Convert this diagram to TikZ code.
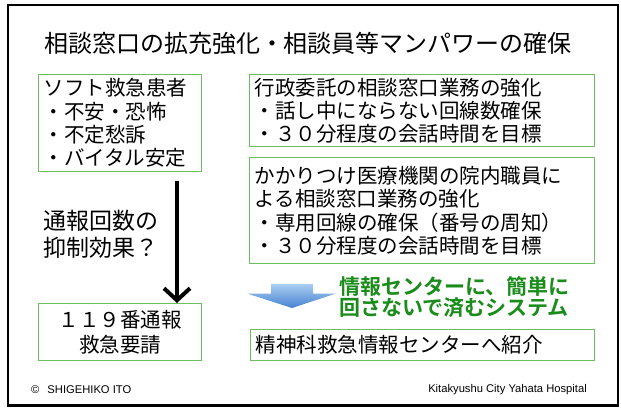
\documentclass[tikz,border=0pt]{standalone}
\usepackage{fontspec}
\setmainfont{Noto Sans CJK JP}[BoldFont={Noto Sans CJK JP Bold}]
\newfontfamily\footfont{Liberation Sans}
\usetikzlibrary{arrows.meta}
\definecolor{gline}{RGB}{110,190,95}
\definecolor{gtext}{RGB}{25,140,25}
\definecolor{btop}{RGB}{170,205,242}
\definecolor{bbot}{RGB}{70,130,208}
\tikzset{
  gbox/.style={draw=gline, line width=1.3pt, inner sep=0pt, anchor=north west},
  jfont/.style={font=\fontsize{20.5}{23.3}\selectfont},
  footstyle/.style={font=\footfont\fontsize{11.2}{13}\selectfont, inner sep=0pt},
}
\begin{document}
\begin{tikzpicture}[x=1pt,y=-1pt]
\useasboundingbox (0,0) rectangle (621,407);
\draw[line width=2.5pt] (8,5) rectangle (618,405.5);
\node[font=\fontsize{24}{28}\selectfont, inner sep=0pt] (title) at (308,43) {相談窓口の拡充強化・相談員等マンパワーの確保};
\node[gbox, jfont, minimum width=163pt, minimum height=97pt, text width=153pt, align=left] (soft) at (38,74)
  {ソフト救急患者\\・不安・恐怖\\・不定愁訴\\・バイタル安定};
\node[gbox, jfont, minimum width=345pt, minimum height=72pt, text width=335pt, align=left] (gyosei) at (249,74)
  {行政委託の相談窓口業務の強化\\・話し中にならない回線数確保\\・３０分程度の会話時間を目標};
\node[gbox, jfont, minimum width=345pt, minimum height=106pt, text width=335pt, align=left] (kakari) at (249,157)
  {かかりつけ医療機関の院内職員に\\よる相談窓口業務の強化\\・専用回線の確保（番号の周知）\\・３０分程度の会話時間を目標};
\node[gbox, font=\fontsize{20.5}{24.5}\selectfont, minimum width=163pt, minimum height=57pt, text width=153pt, align=center] (q119) at (38,303)
  {１１９番通報\\救急要請};
\node[gbox, jfont, minimum width=344pt, minimum height=31pt, text width=334pt, align=left] (seishin) at (250,329)
  {精神科救急情報センターへ紹介};
\node[font=\fontsize{23}{27}\selectfont, inner sep=0pt, anchor=west, align=left] (yokusei) at (43,234.5)
  {通報回数の\\抑制効果？};
\coordinate (atop) at (177,181);
\coordinate (abot) at (177,303);
\draw[line width=4pt, -{Straight Barb[length=12pt,width=26pt]}] (atop) -- (abot);
\shade[top color=btop, bottom color=bbot] (271,284) -- (313,284) -- (313,293.5) -- (336,293.5) -- (292,308) -- (247,293.5) -- (271,293.5) -- cycle;
\node[font=\bfseries\fontsize{21}{20.5}\selectfont, text=gtext, inner sep=0pt, anchor=west, align=left] (joho) at (339,297)
  {情報センターに、簡単に\\回さないで済むシステム};
\node[footstyle, anchor=west] (copy) at (31,390) {©\hspace{8pt}SHIGEHIKO ITO};
\node[footstyle, anchor=east] (hosp) at (587,390) {Kitakyushu City Yahata Hospital};
\end{tikzpicture}
\end{document}
